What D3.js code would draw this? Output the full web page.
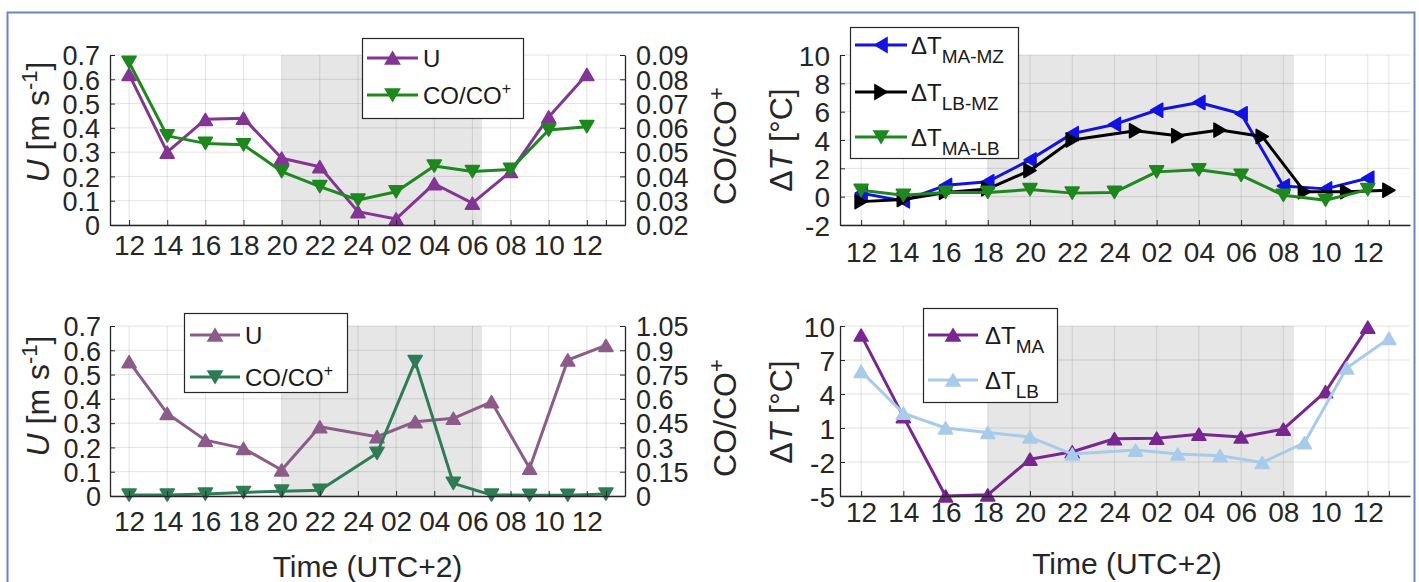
<!DOCTYPE html>
<html><head><meta charset="utf-8">
<script src="https://cdn.jsdelivr.net/npm/d3@7/dist/d3.min.js"></script>
<style>
body{margin:0;background:#fff}
svg{display:block}
text{font-family:"Liberation Sans",Arial,Helvetica,sans-serif}
</style></head>
<body><svg id="c" width="1419" height="582"></svg>
<script>
// ---------- DATA ----------
const xTicks = [12,14,16,18,20,22,24,26,28,30,32,34,36,37];
const xTickLabels = ["12","14","16","18","20","22","24","02","04","06","08","10","12",""];
const xDomain = [11,38];
const hoursEven = [12,14,16,18,20,22,24,26,28,30,32,34,36];
const hoursOdd  = [12,14,16,18,20,22,25,27,29,31,33,35,37];
const nightLeft = [20,30.5];
const nightRight = [18,32.5];

// top-left
const uTop  = [0.62,0.30,0.435,0.44,0.275,0.24,0.055,0.025,0.17,0.09,0.22,0.445,0.62];
const coTop = [0.087,0.0567,0.0536,0.053,0.042,0.0358,0.0303,0.0337,0.0443,0.042,0.0429,0.0591,0.0605];
const uTicks = [0,0.1,0.2,0.3,0.4,0.5,0.6,0.7];
const coTopTicks = [0.02,0.03,0.04,0.05,0.06,0.07,0.08,0.09];

// top-right
const dtMAMZ = [0.25,-0.3,0.8,1.05,2.6,4.45,5.1,6.1,6.65,5.85,0.75,0.55,1.3];
const dtLBMZ = [-0.35,-0.2,0.3,0.55,1.85,4.0,4.65,4.3,4.7,4.25,0.35,0.35,0.45];
const dtMALB = [0.45,0.1,0.3,0.3,0.5,0.25,0.3,1.75,1.9,1.5,0.1,-0.25,0.5];
const dtTopTicks = [-2,0,2,4,6,8,10];

// bottom-left
const uBot  = [0.553,0.34,0.23,0.196,0.107,0.285,0.244,0.306,0.32,0.388,0.114,0.56,0.62];
const coBot = [0.006,0.006,0.012,0.022,0.03,0.035,0.264,0.83,0.078,0.006,0.005,0.005,0.012];
const coBotTicks = [0,0.15,0.3,0.45,0.6,0.75,0.9,1.05];

// bottom-right
const dtMA = [9.2,2.0,-5,-4.9,-1.75,-1.1,0.05,0.1,0.45,0.2,0.9,4.2,9.9];
const dtLB = [6.0,2.3,1.0,0.6,0.2,-1.3,-0.95,-1.3,-1.45,-2.05,-0.3,6.3,8.9];
const dtBotTicks = [-5,-2,1,4,7,10];

// ---------- DRAW ----------
const FONT = '"Liberation Sans",Arial,Helvetica,sans-serif';
const AX = "#262626";
const svg = d3.select("#c");
svg.append("rect").attr("x",7.5).attr("y",12.5).attr("width",1407).attr("height",620)
  .attr("fill","#fff").attr("stroke","#6A85C2").attr("stroke-width",2);

function tri(dir){
  const w=7,h=6;
  if(dir==="up") return `M0,${-h}L${w},${h}L${-w},${h}Z`;
  if(dir==="down") return `M0,${h}L${w},${-h}L${-w},${-h}Z`;
  if(dir==="left") return `M${-h},0L${h},${-w}L${h},${w}Z`;
  return `M${h},0L${-h},${-w}L${-h},${w}Z`;
}
const fmt = d => String(+d.toFixed(2));

function styleAxis(a,fs){
  a.attr("font-family",FONT).attr("font-size",fs||28);
  a.select(".domain").attr("stroke",AX).attr("stroke-width",1.3);
  a.selectAll(".tick line").attr("stroke",AX);
  a.selectAll("text").attr("fill",AX);
}

function panel(c){
  const g = svg.append("g");
  const x = d3.scaleLinear().domain(xDomain).range([c.x0,c.x1]);
  const y = d3.scaleLinear().domain(c.yDomain).range([c.yBot,c.yTop]);
  const y2 = c.rDomain ? d3.scaleLinear().domain(c.rDomain).range([c.yBot,c.yTop]) : null;
  g.append("rect").attr("x",x(c.shade[0])).attr("width",x(c.shade[1])-x(c.shade[0]))
    .attr("y",c.yTop).attr("height",c.yBot-c.yTop).attr("fill","#E6E6E6");
  g.selectAll("line.vg").data(xTicks).join("line").attr("class","vg")
    .attr("x1",d=>x(d)).attr("x2",d=>x(d)).attr("y1",c.yTop).attr("y2",c.yBot)
    .attr("stroke","#000").attr("stroke-opacity",0.11);
  g.selectAll("line.hg").data(c.yTicks).join("line").attr("class","hg")
    .attr("x1",c.x0).attr("x2",c.x1).attr("y1",d=>y(d)).attr("y2",d=>y(d))
    .attr("stroke","#000").attr("stroke-opacity",0.11);
  c.series.forEach(s=>{
    const sc = s.right ? y2 : y;
    const pts = s.hours.map((h,i)=>[h,s.vals[i]]);
    g.append("path").datum(pts).attr("fill","none").attr("stroke",s.color).attr("stroke-width",3)
      .attr("stroke-linejoin","round")
      .attr("d",d3.line().x(d=>x(d[0])).y(d=>sc(d[1])));
    g.selectAll(null).data(pts).join("path")
      .attr("transform",d=>`translate(${x(d[0])},${sc(d[1])})`)
      .attr("d",tri(s.dir)).attr("fill",s.color).attr("stroke",s.color).attr("stroke-width",1.6)
      .attr("stroke-linejoin","round");
  });
  const ax = g.append("g").attr("transform",`translate(0,${c.yBot})`)
    .call(d3.axisBottom(x).tickValues(xTicks).tickFormat((d,i)=>xTickLabels[i])
      .tickSizeInner(-5).tickSizeOuter(0).tickPadding(c.xPad));
  styleAxis(ax,28);
  const ay = g.append("g").attr("transform",`translate(${c.x0},0)`)
    .call(d3.axisLeft(y).tickValues(c.yTicks).tickFormat(fmt).tickSizeInner(-5).tickSizeOuter(0).tickPadding(c.yPad));
  styleAxis(ay,c.yFs||27);
  ay.selectAll("text").attr("dy","0.36em");
  if(y2){
    const ar = g.append("g").attr("transform",`translate(${c.x1},0)`)
      .call(d3.axisRight(y2).tickValues(c.rTicks).tickFormat(fmt).tickSizeInner(-5).tickSizeOuter(0).tickPadding(11));
    styleAxis(ar,27);
    ar.selectAll("text").attr("dy","0.36em");
  }
  return {g,x,y};
}

function ylabel(x,y,parts){
  const t = svg.append("text").attr("transform",`translate(${x},${y}) rotate(-90)`)
    .attr("text-anchor","middle").attr("font-size",32).attr("fill",AX);
  parts.forEach(p=>{
    const s = t.append("tspan").text(p.t);
    if(p.i) s.attr("font-style","italic");
    if(p.sup) s.attr("font-size",22).attr("baseline-shift","super");
  });
}

function legend(bx,by,bw,bh,entries,lx0,lx1,tx){
  svg.append("rect").attr("x",bx+0.5).attr("y",by+0.5).attr("width",bw).attr("height",bh)
    .attr("fill","#fff").attr("stroke",AX).attr("stroke-width",1.2);
  entries.forEach(e=>{
    svg.append("line").attr("x1",lx0).attr("x2",lx1).attr("y1",e.y).attr("y2",e.y)
      .attr("stroke",e.color).attr("stroke-width",3);
    svg.append("path").attr("transform",`translate(${(lx0+lx1)/2},${e.y})`).attr("d",tri(e.dir))
      .attr("fill",e.color).attr("stroke",e.color).attr("stroke-width",1.6);
    const t = svg.append("text").attr("x",tx).attr("y",e.y+8.5).attr("font-size",24).attr("fill","#1a1a1a");
    t.append("tspan").text(e.main);
    if(e.sup) t.append("tspan").text(e.sup).attr("font-size",16).attr("dy",-10);
    if(e.sub) t.append("tspan").text(e.sub).attr("font-size",19).attr("dy",9);
  });
}

const cPurple="#833594", cGreen="#1E871E", cBlue="#1212E2", cBlack="#000000";
const cMauve="#8C5C88", cTeal="#2F7B56", cDPurple="#782690", cLBlue="#A9CBEA";

// top-left
panel({x0:110,x1:625,yTop:55,yBot:225,yDomain:[0,0.7],yTicks:uTicks,rDomain:[0.02,0.09],rTicks:coTopTicks,
  shade:nightLeft,xPad:10,yPad:10,
  series:[{hours:hoursEven,vals:uTop,color:cPurple,dir:"up"},
          {hours:hoursEven,vals:coTop,color:cGreen,dir:"down",right:true}]});
// top-right
panel({x0:840,x1:1410,yTop:55,yBot:225,yDomain:[-2,10],yTicks:dtTopTicks,
  shade:nightRight,xPad:17,yPad:10,yFs:28,
  series:[{hours:hoursEven,vals:dtMAMZ,color:cBlue,dir:"left"},
          {hours:hoursOdd,vals:dtLBMZ,color:cBlack,dir:"right"},
          {hours:hoursEven,vals:dtMALB,color:cGreen,dir:"down"}]});
// bottom-left
panel({x0:110,x1:625,yTop:326,yBot:496,yDomain:[0,0.7],yTicks:uTicks,rDomain:[0,1.05],rTicks:coBotTicks,
  shade:nightLeft,xPad:15,yPad:9,
  series:[{hours:hoursOdd,vals:uBot,color:cMauve,dir:"up"},
          {hours:hoursOdd,vals:coBot,color:cTeal,dir:"down",right:true}]});
// bottom-right
panel({x0:840,x1:1410,yTop:326,yBot:496,yDomain:[-5,10],yTicks:dtBotTicks,
  shade:nightRight,xPad:6,yPad:5,yFs:28,
  series:[{hours:hoursEven,vals:dtMA,color:cDPurple,dir:"up"},
          {hours:hoursOdd,vals:dtLB,color:cLBlue,dir:"up"}]});

// axis titles
ylabel(49,122,[{t:"U",i:true},{t:" [m s"},{t:"-1",sup:true},{t:"]"}]);
ylabel(49,396,[{t:"U",i:true},{t:" [m s"},{t:"-1",sup:true},{t:"]"}]);
ylabel(736,146,[{t:"CO/CO"},{t:"+",sup:true}]);
ylabel(736,418,[{t:"CO/CO"},{t:"+",sup:true}]);
ylabel(792,140,[{t:"\u0394"},{t:"T",i:true},{t:" [\u00B0C]"}]);
ylabel(792,412,[{t:"\u0394"},{t:"T",i:true},{t:" [\u00B0C]"}]);
svg.append("text").attr("x",367.5).attr("y",577).attr("text-anchor","middle").attr("font-size",30).attr("fill",AX).text("Time (UTC+2)");
svg.append("text").attr("x",1127).attr("y",574).attr("text-anchor","middle").attr("font-size",30).attr("fill",AX).text("Time (UTC+2)");

// legends
legend(362,38,161,80,[{y:58,color:cPurple,dir:"up",main:"U"},{y:95,color:cGreen,dir:"down",main:"CO/CO",sup:"+"}],367,418,423);
legend(850,27,168,131,[{y:45,color:cBlue,dir:"left",main:"\u0394T",sub:"MA-MZ"},
  {y:92,color:cBlack,dir:"right",main:"\u0394T",sub:"LB-MZ"},
  {y:137,color:cGreen,dir:"down",main:"\u0394T",sub:"MA-LB"}],855,907,911);
legend(184,313,163,79,[{y:335,color:cMauve,dir:"up",main:"U"},{y:377,color:cTeal,dir:"down",main:"CO/CO",sup:"+"}],190,240,245);
legend(923,308,134,94,[{y:335,color:cDPurple,dir:"up",main:"\u0394T",sub:"MA"},{y:380,color:cLBlue,dir:"up",main:"\u0394T",sub:"LB"}],928,978,985);
</script></body></html>
